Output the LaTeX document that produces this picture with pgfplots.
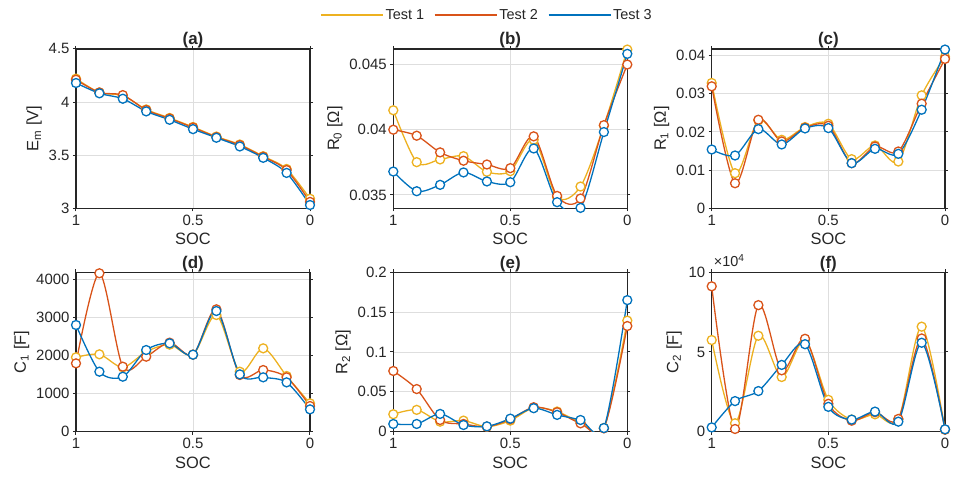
\documentclass[border=0pt]{standalone}
\usepackage{fontspec}
\setmainfont{Liberation Sans}
\usepackage{pgfplots}
\usepackage{pgfplotstable}
\pgfplotsset{compat=1.18}
\definecolor{c1}{RGB}{237,177,32}
\definecolor{c2}{RGB}{217,83,25}
\definecolor{c3}{RGB}{0,114,189}
\definecolor{axc}{RGB}{38,38,38}
\definecolor{gridc}{RGB}{222,222,222}
\newcommand{\tickfont}{\fontsize{15}{18}\selectfont}
\newcommand{\labfont}{\fontsize{16.5}{19}\selectfont}
\newcommand{\titfont}{\fontsize{17}{20}\selectfont\bfseries}

\pgfplotstableread{
x t1 t2 t3
1.0 4.220 4.210 4.179
0.9 4.090 4.090 4.082
0.8 4.060 4.065 4.031
0.7 3.930 3.925 3.912
0.6 3.850 3.845 3.833
0.5 3.765 3.760 3.745
0.4 3.675 3.670 3.664
0.3 3.600 3.595 3.582
0.2 3.490 3.485 3.475
0.1 3.370 3.360 3.333
0.0 3.090 3.060 3.031
}\tabA
\pgfplotstableread{
x t1 t2 t3
1.0 0.04149 0.04000 0.03679
0.9 0.03751 0.03954 0.03528
0.8 0.03772 0.03826 0.03577
0.7 0.03797 0.03762 0.03672
0.6 0.03677 0.03733 0.03603
0.5 0.03682 0.03705 0.03597
0.4 0.03923 0.03949 0.03856
0.3 0.03482 0.03492 0.03444
0.2 0.03564 0.03472 0.03400
0.1 0.04031 0.04035 0.03982
0.0 0.04615 0.04500 0.04582
}\tabB
\pgfplotstableread{
x t1 t2 t3
1.0 0.03282 0.03195 0.01540
0.9 0.00919 0.00656 0.01383
0.8 0.02302 0.02319 0.02074
0.7 0.01794 0.01751 0.01672
0.6 0.02127 0.02109 0.02092
0.5 0.02214 0.02162 0.02101
0.4 0.01287 0.01182 0.01182
0.3 0.01646 0.01619 0.01558
0.2 0.01225 0.01488 0.01427
0.1 0.02958 0.02740 0.02582
0.0 0.03965 0.03912 0.04158
}\tabC
\pgfplotstableread{
x t1 t2 t3
1.0 1952 1794 2801
0.9 2031 4158 1575
0.8 1690 1707 1444
0.7 2100 1969 2144
0.6 2285 2337 2319
0.5 2022 2022 2022
0.4 3063 3212 3168
0.3 1575 1488 1505
0.2 2188 1619 1427
0.1 1462 1427 1295
0.0 744 674 586
}\tabD
\pgfplotstableread{
x t1 t2 t3
1.0 0.0219 0.0762 0.0097
0.9 0.0274 0.0535 0.0097
0.8 0.0126 0.0147 0.0223
0.7 0.0139 0.0097 0.0084
0.6 0.0063 0.0063 0.0067
0.5 0.0139 0.0156 0.0164
0.4 0.0299 0.0307 0.0295
0.3 0.0253 0.0244 0.0211
0.2 0.0118 0.0105 0.0147
0.1 0.0046 0.0042 0.0046
0.0 0.1394 0.1326 0.1651
}\tabE
\pgfplotstableread{
x t1 t2 t3
1.0 57500 91200 2700
0.9 5300 1700 19200
0.8 60200 79400 25500
0.7 34300 38500 41900
0.6 57500 58300 54900
0.5 20000 17500 15600
0.4 7600 6900 7600
0.3 10900 12200 12600
0.2 7800 8000 6300
0.1 65900 58500 55800
0.0 1300 1300 1500
}\tabF

\pgfplotsset{
  panel/.style={
    scale only axis, width=234bp, height=159.4bp, anchor=south west,
    xmin=0, xmax=1, x dir=reverse,
    xtick={0,0.5,1}, xticklabels={0,0.5,1},
    scaled ticks=false,
    /pgf/number format/assume math mode=true,
    grid=major, major grid style={draw=gridc, line width=0.9bp},
    axis line style={draw=axc, line width=1.4bp},
    tick style={draw=axc, line width=1bp},
    tick align=outside, major tick length=3bp,
    ticklabel style={font=\tickfont, text=axc},
    label style={font=\labfont, text=axc},
    title style={font=\titfont, text=axc, at={(0.5,1)}, anchor=base, yshift=-2bp},
    xlabel={SOC},
    xlabel style={yshift=-1bp},
  },
  s1/.style={c1, line width=1.3bp, smooth, mark=*, mark size=4.5bp, mark options={fill=white, draw=c1, line width=1.3bp, solid}},
  s2/.style={c2, line width=1.3bp, smooth, mark=*, mark size=4.5bp, mark options={fill=white, draw=c2, line width=1.3bp, solid}},
  s3/.style={c3, line width=1.3bp, smooth, mark=*, mark size=4.5bp, mark options={fill=white, draw=c3, line width=1.3bp, solid}},
}

\begin{document}
\begin{tikzpicture}
\path[use as bounding box] (0,0) rectangle (959bp,480bp);

% (a)
\begin{axis}[panel, at={(76bp,271.7bp)}, title={(a)},
  ymin=3, ymax=4.5, ytick={3,3.5,4,4.5}, yticklabels={3,3.5,4,4.5},
  ylabel={E\textsubscript{m} [V]}]
\addplot[s1] table[x=x,y=t1]{\tabA};
\addplot[s2] table[x=x,y=t2]{\tabA};
\addplot[s3] table[x=x,y=t3]{\tabA};
\end{axis}

% (b)
\begin{axis}[panel, at={(393.3bp,271.7bp)}, title={(b)},
  ymin=0.03397, ymax=0.0462, ytick={0.035,0.04,0.045}, yticklabels={0.035,0.04,0.045},
  ylabel={R\textsubscript{0} [Ω]},
  legend columns=3,
  legend style={draw=none, fill=none, inner sep=0pt, font=\fontsize{14.5}{17}\selectfont, text=axc,
    at={(-0.313,1.2127)}, anchor=west,
    /tikz/every even column/.append style={column sep=8bp}},
  legend image code/.code={\draw[#1] (0bp,0bp) -- (62bp,0bp);}]
\addplot[s1] table[x=x,y=t1]{\tabB};
\addplot[s2] table[x=x,y=t2]{\tabB};
\addplot[s3] table[x=x,y=t3]{\tabB};
\legend{Test 1, Test 2, Test 3}
\end{axis}

% (c)
\begin{axis}[panel, at={(711.7bp,271.7bp)}, width=233.3bp, title={(c)},
  ymin=0, ymax=0.04175, ytick={0,0.01,0.02,0.03,0.04}, yticklabels={0,0.01,0.02,0.03,0.04},
  ylabel={R\textsubscript{1} [Ω]}]
\addplot[s1] table[x=x,y=t1]{\tabC};
\addplot[s2] table[x=x,y=t2]{\tabC};
\addplot[s3] table[x=x,y=t3]{\tabC};
\end{axis}

% (d)
\begin{axis}[panel, at={(76bp,48.3bp)}, title={(d)},
  ymin=0, ymax=4184, ytick={0,1000,2000,3000,4000}, yticklabels={0,1000,2000,3000,4000},
  ylabel={C\textsubscript{1} [F]}]
\addplot[s1] table[x=x,y=t1]{\tabD};
\addplot[s2] table[x=x,y=t2]{\tabD};
\addplot[s3] table[x=x,y=t3]{\tabD};
\end{axis}

% (e)
\begin{axis}[panel, at={(393.3bp,48.3bp)}, title={(e)},
  ymin=0, ymax=0.2, ytick={0,0.05,0.1,0.15,0.2}, yticklabels={0,0.05,0.1,0.15,0.2},
  ylabel={R\textsubscript{2} [Ω]}]
\addplot[s1] table[x=x,y=t1]{\tabE};
\addplot[s2] table[x=x,y=t2]{\tabE};
\addplot[s3] table[x=x,y=t3]{\tabE};
\end{axis}

% (f)
\begin{axis}[panel, name=axf, at={(711.7bp,48.3bp)}, width=233.3bp, title={(f)},
  ymin=0, ymax=100000, ytick={0,50000,100000}, yticklabels={0,5,10},
  ylabel={C\textsubscript{2} [F]}]
\addplot[s1] table[x=x,y=t1]{\tabF};
\addplot[s2] table[x=x,y=t2]{\tabF};
\addplot[s3] table[x=x,y=t3]{\tabF};
\end{axis}
\node[anchor=base west, inner sep=0pt, font=\fontsize{14.5}{17}\selectfont, text=axc] at ([xshift=2bp,yshift=5.5bp]axf.north west) {×10\textsuperscript{4}};
\end{tikzpicture}
\end{document}
